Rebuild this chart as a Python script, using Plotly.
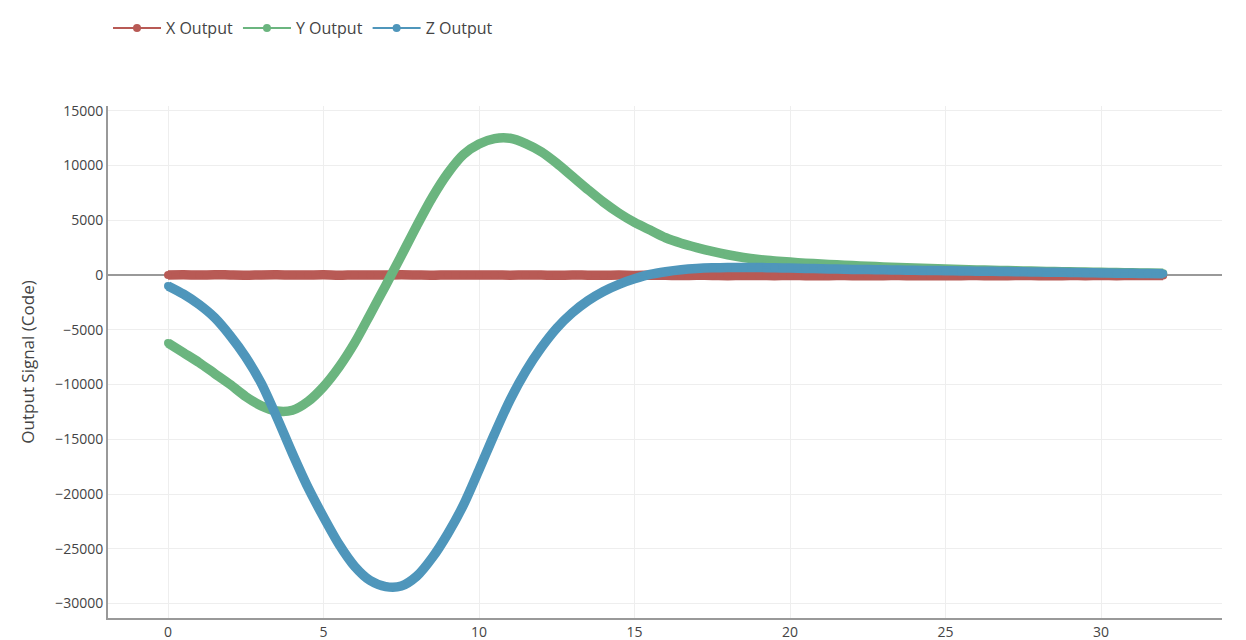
import plotly.graph_objects as go

# ---- data ----
time_s = [i * 0.5 for i in range(65)]  # 0 .. 32

x_output = [
    0, 20, -10, 30, 0, -20, 10, 20, -10, 0,
    20, -20, 10, 0, -10, 20, 0, -20, 10, 0,
    -10, 10, -20, 0, -10, -30, 0, -20, -30, -10,
    -40, -20, -30, -50, -30, -40, -60, -40, -50, -60,
    -40, -60, -70, -50, -60, -70, -60, -50, -70, -60,
    -70, -60, -50, -70, -60, -50, -60, -70, -50, -60,
    -50, -60, -50, -40, -50,
]

y_output = [
    -6200, -7100, -8000, -9000, -10000, -11100, -11950, -12420, -12350, -11550,
    -10200, -8400, -6200, -3600, -950, 1750, 4500, 7100, 9300, 11000,
    11950, 12450, 12480, 12000, 11250, 10200, 9000, 7800, 6650, 5650,
    4800, 4100, 3400, 2900, 2500, 2150, 1850, 1600, 1420, 1290,
    1180, 1080, 1000, 930, 860, 800, 740, 690, 640, 590,
    545, 505, 465, 435, 405, 375, 345, 315, 290, 265,
    240, 220, 200, 180, 160,
]

z_output = [
    -1000, -1750, -2700, -3900, -5550, -7500, -9900, -13000, -16300, -19400,
    -22100, -24600, -26600, -27900, -28450, -28400, -27500, -25800, -23600, -21000,
    -17800, -14500, -11400, -8800, -6650, -4850, -3450, -2350, -1500, -850,
    -350, 50, 300, 480, 590, 650, 680, 690, 680, 660,
    630, 600, 570, 540, 510, 490, 470, 450, 430, 410,
    390, 370, 350, 330, 310, 290, 270, 250, 230, 210,
    190, 170, 150, 130, 120,
]

y_ticks = [15000, 10000, 5000, 0, -5000, -10000, -15000, -20000, -25000, -30000]
x_ticks = [0, 5, 10, 15, 20, 25, 30]

series_names = ["X Output", "Y Output", "Z Output"]
series_values = [x_output, y_output, z_output]
series_colors = ["#b85a55", "#6bb57f", "#4f96bb"]

fig = go.Figure()
for name, vals, col in zip(series_names, series_values, series_colors):
    # thick band formed by the densely packed markers
    fig.add_trace(go.Scatter(
        x=time_s, y=vals, mode="lines", name=name, legendgroup=name,
        showlegend=False, hoverinfo="skip",
        line=dict(color=col, width=9.5, shape="spline", smoothing=0.8),
    ))
    fig.add_trace(go.Scatter(
        x=time_s, y=vals, mode="lines+markers", name=name, legendgroup=name,
        line=dict(color=col, width=2, shape="spline", smoothing=0.8),
        marker=dict(color=col, size=8),
    ))

fig.update_layout(
    width=1246, height=640,
    margin=dict(l=100, r=32, t=98, b=30, autoexpand=False),
    paper_bgcolor="white", plot_bgcolor="white",
    font=dict(family="Open Sans, sans-serif", color="#444"),
    showlegend=True,
    legend=dict(orientation="h", x=0, xanchor="left", y=1.152, yanchor="middle",
                itemwidth=48,
                font=dict(size=16, color="#444"), bgcolor="rgba(0,0,0,0)"),
    xaxis=dict(range=[-1.93, 33.89], tickvals=x_ticks,
               ticktext=[str(v) for v in x_ticks], automargin=False,
               showgrid=True, gridcolor="#eeeeee", gridwidth=1,
               zeroline=False, showline=True, linecolor="#999", linewidth=2,
               ticks="", tickfont=dict(size=14, color="#444")),
    yaxis=dict(range=[-31320, 15430], tickvals=y_ticks,
               ticktext=[str(v).replace("-", "\u2212") for v in y_ticks],
               automargin=False,
               showgrid=True, gridcolor="#eeeeee", gridwidth=1,
               zeroline=True, zerolinecolor="#999", zerolinewidth=2,
               showline=True, linecolor="#999", linewidth=2,
               ticks="", tickfont=dict(size=14, color="#444"),
               title=dict(text="Output Signal (Code)", standoff=16,
                          font=dict(size=17, color="#444"))),
)

fig.write_html("out.html")
